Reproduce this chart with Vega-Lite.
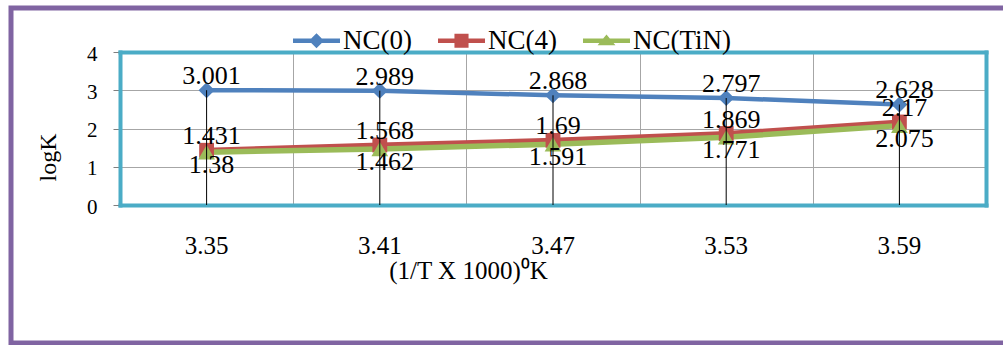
{
  "$schema": "https://vega.github.io/schema/vega-lite/v6.json",
  "width": 1000,
  "height": 335,
  "autosize": {"type": "none"},
  "padding": {"left": 11, "top": 8, "right": -8, "bottom": 2},
  "background": "white",
  "config": {
    "font": "Liberation Serif",
    "view": {"stroke": "#8064A2", "strokeWidth": 5},
    "axis": {
      "labelFont": "Liberation Serif",
      "titleFont": "Liberation Serif",
      "labelColor": "black",
      "titleColor": "black",
      "titleFontWeight": "normal"
    }
  },
  "data": {
    "values": [
      {"T": "3.35", "series": "NC(0)", "logK": 3.001},
      {"T": "3.41", "series": "NC(0)", "logK": 2.989},
      {"T": "3.47", "series": "NC(0)", "logK": 2.868},
      {"T": "3.53", "series": "NC(0)", "logK": 2.797},
      {"T": "3.59", "series": "NC(0)", "logK": 2.628},
      {"T": "3.35", "series": "NC(4)", "logK": 1.431},
      {"T": "3.41", "series": "NC(4)", "logK": 1.568},
      {"T": "3.47", "series": "NC(4)", "logK": 1.69},
      {"T": "3.53", "series": "NC(4)", "logK": 1.869},
      {"T": "3.59", "series": "NC(4)", "logK": 2.17},
      {"T": "3.35", "series": "NC(TiN)", "logK": 1.38},
      {"T": "3.41", "series": "NC(TiN)", "logK": 1.462},
      {"T": "3.47", "series": "NC(TiN)", "logK": 1.591},
      {"T": "3.53", "series": "NC(TiN)", "logK": 1.771},
      {"T": "3.59", "series": "NC(TiN)", "logK": 2.075}
    ]
  },
  "layer": [
    {
      "transform": [{"filter": "datum.series === 'NC(0)'"}],
      "mark": {"type": "line", "strokeWidth": 4.5, "color": "#4F81BD"},
      "encoding": {
        "x": {
          "field": "T",
          "type": "ordinal",
          "scale": {"type": "band", "range": [109, 975], "paddingInner": 0, "paddingOuter": 0},
          "axis": {
            "orient": "bottom",
            "offset": -138,
            "domainColor": "#4BACC6",
            "domainWidth": 4,
            "domainCap": "square",
            "ticks": false,
            "tickSize": 0,
            "grid": false,
            "labelAngle": 0,
            "labelFontSize": 25,
            "labelPadding": 28,
            "title": "(1/T X 1000)⁰K",
            "titleFontSize": 25,
            "titleX": 457,
            "titleY": 65,
            "titleBaseline": "middle",
            "titleAlign": "center"
          }
        },
        "y": {
          "field": "logK",
          "type": "quantitative",
          "scale": {"domain": [0, 4], "range": [197, 44], "nice": false, "zero": false},
          "axis": {
            "orient": "left",
            "offset": -109,
            "values": [0, 1, 2, 3, 4],
            "domainColor": "#4BACC6",
            "domainWidth": 4,
            "domainCap": "square",
            "tickColor": "#7F7F7F",
            "tickSize": 7,
            "grid": true,
            "gridColor": "#A6A6A6",
            "gridWidth": 1,
            "labelFontSize": 21,
            "labelPadding": 16,
            "labelOffset": 2,
            "title": "logK",
            "titleFontSize": 24,
            "titleAngle": 270,
            "titleX": -72,
            "titleY": 149,
            "titleBaseline": "middle",
            "titleAlign": "center"
          }
        }
      }
    },
    {
      "mark": {"type": "point", "filled": true, "opacity": 0},
      "encoding": {
        "x": {
          "field": "T",
          "type": "ordinal",
          "axis": {
            "orient": "top",
            "offset": -44,
            "domainColor": "#4BACC6",
            "domainWidth": 4,
            "domainCap": "square",
            "ticks": false,
            "labels": false,
            "title": null,
            "grid": true,
            "gridColor": "#A6A6A6",
            "gridWidth": 1,
            "tickBand": "extent"
          }
        },
        "y": {
          "field": "logK",
          "type": "quantitative",
          "axis": {
            "orient": "right",
            "offset": -25,
            "domainColor": "#4BACC6",
            "domainWidth": 4,
            "domainCap": "square",
            "ticks": false,
            "labels": false,
            "title": null,
            "grid": false
          }
        },
        "color": {
          "field": "series",
          "type": "nominal",
          "scale": {"domain": ["NC(0)", "NC(4)", "NC(TiN)"], "range": ["#4F81BD", "#C0504D", "#9BBB59"]},
          "legend": {
            "orient": "none",
            "legendX": 282,
            "legendY": 9,
            "direction": "horizontal",
            "title": null,
            "symbolSize": 2209,
            "symbolStrokeWidth": 0,
            "symbolOpacity": 1,
            "labelFont": "Liberation Serif",
            "labelFontSize": 27,
            "labelColor": "black",
            "labelOffset": 3,
            "columnPadding": 26,
            "padding": 0,
            "gridAlign": "each"
          }
        },
        "shape": {
          "field": "series",
          "type": "nominal",
          "scale": {
            "domain": ["NC(0)", "NC(4)", "NC(TiN)"],
            "range": [
              "M-1,-0.094H1V0.094H-1Z M0,-0.32L0.32,0L0,0.32L-0.32,0Z",
              "M-1,-0.094H1V0.094H-1Z M-0.3,-0.3H0.3V0.3H-0.3Z",
              "M-1,-0.094H1V0.094H-1Z M0,-0.27L0.38,0.19L-0.38,0.19Z"
            ]
          },
          "legend": {
            "orient": "none",
            "legendX": 282,
            "legendY": 9,
            "direction": "horizontal",
            "title": null,
            "symbolSize": 2209,
            "symbolStrokeWidth": 0,
            "symbolOpacity": 1,
            "labelFont": "Liberation Serif",
            "labelFontSize": 27,
            "labelColor": "black",
            "labelOffset": 3,
            "columnPadding": 26,
            "padding": 0,
            "gridAlign": "each"
          }
        }
      }
    },
    {
      "transform": [{"filter": "datum.series === 'NC(4)'"}],
      "mark": {"type": "line", "strokeWidth": 5, "color": "#C0504D"},
      "encoding": {
        "x": {"field": "T", "type": "ordinal", "axis": null},
        "y": {"field": "logK", "type": "quantitative", "axis": null}
      }
    },
    {
      "transform": [{"filter": "datum.series === 'NC(TiN)'"}],
      "mark": {"type": "line", "strokeWidth": 5.5, "color": "#9BBB59"},
      "encoding": {
        "x": {"field": "T", "type": "ordinal", "axis": null},
        "y": {"field": "logK", "type": "quantitative", "axis": null}
      }
    },
    {
      "transform": [{"filter": "datum.series === 'NC(0)'"}],
      "mark": {"type": "point", "shape": "diamond", "filled": true, "size": 260, "opacity": 1, "color": "#4F81BD"},
      "encoding": {
        "x": {"field": "T", "type": "ordinal", "axis": null},
        "y": {"field": "logK", "type": "quantitative", "axis": null}
      }
    },
    {
      "transform": [{"filter": "datum.series === 'NC(4)'"}],
      "mark": {"type": "point", "shape": "square", "filled": true, "size": 220, "opacity": 1, "color": "#C0504D"},
      "encoding": {
        "x": {"field": "T", "type": "ordinal", "axis": null},
        "y": {"field": "logK", "type": "quantitative", "axis": null}
      }
    },
    {
      "transform": [{"filter": "datum.series === 'NC(TiN)'"}],
      "mark": {"type": "point", "shape": "triangle-up", "filled": true, "size": 280, "opacity": 1, "color": "#9BBB59"},
      "encoding": {
        "x": {"field": "T", "type": "ordinal", "axis": null},
        "y": {"field": "logK", "type": "quantitative", "axis": null}
      }
    },
    {
      "transform": [{"filter": "datum.series === 'NC(0)'"}],
      "mark": {"type": "rule", "color": "black", "strokeWidth": 1},
      "encoding": {
        "x": {"field": "T", "type": "ordinal", "axis": null},
        "y": {"field": "logK", "type": "quantitative", "axis": null},
        "y2": {"datum": 0}
      }
    },
    {
      "transform": [{"filter": "datum.series === 'NC(0)'"}],
      "mark": {"type": "text", "font": "Liberation Serif", "fontSize": 26, "color": "black", "dx": 5, "dy": -14},
      "encoding": {
        "x": {"field": "T", "type": "ordinal", "axis": null},
        "y": {"field": "logK", "type": "quantitative", "axis": null},
        "text": {"field": "logK", "type": "quantitative"}
      }
    },
    {
      "transform": [{"filter": "datum.series === 'NC(4)'"}],
      "mark": {"type": "text", "font": "Liberation Serif", "fontSize": 26, "color": "black", "dx": 5, "dy": -14},
      "encoding": {
        "x": {"field": "T", "type": "ordinal", "axis": null},
        "y": {"field": "logK", "type": "quantitative", "axis": null},
        "text": {"field": "logK", "type": "quantitative"}
      }
    },
    {
      "transform": [{"filter": "datum.series === 'NC(TiN)'"}],
      "mark": {"type": "text", "font": "Liberation Serif", "fontSize": 26, "color": "black", "dx": 5, "dy": 13},
      "encoding": {
        "x": {"field": "T", "type": "ordinal", "axis": null},
        "y": {"field": "logK", "type": "quantitative", "axis": null},
        "text": {"field": "logK", "type": "quantitative"}
      }
    }
  ],
  "resolve": {"axis": {"x": "independent", "y": "independent"}}
}
